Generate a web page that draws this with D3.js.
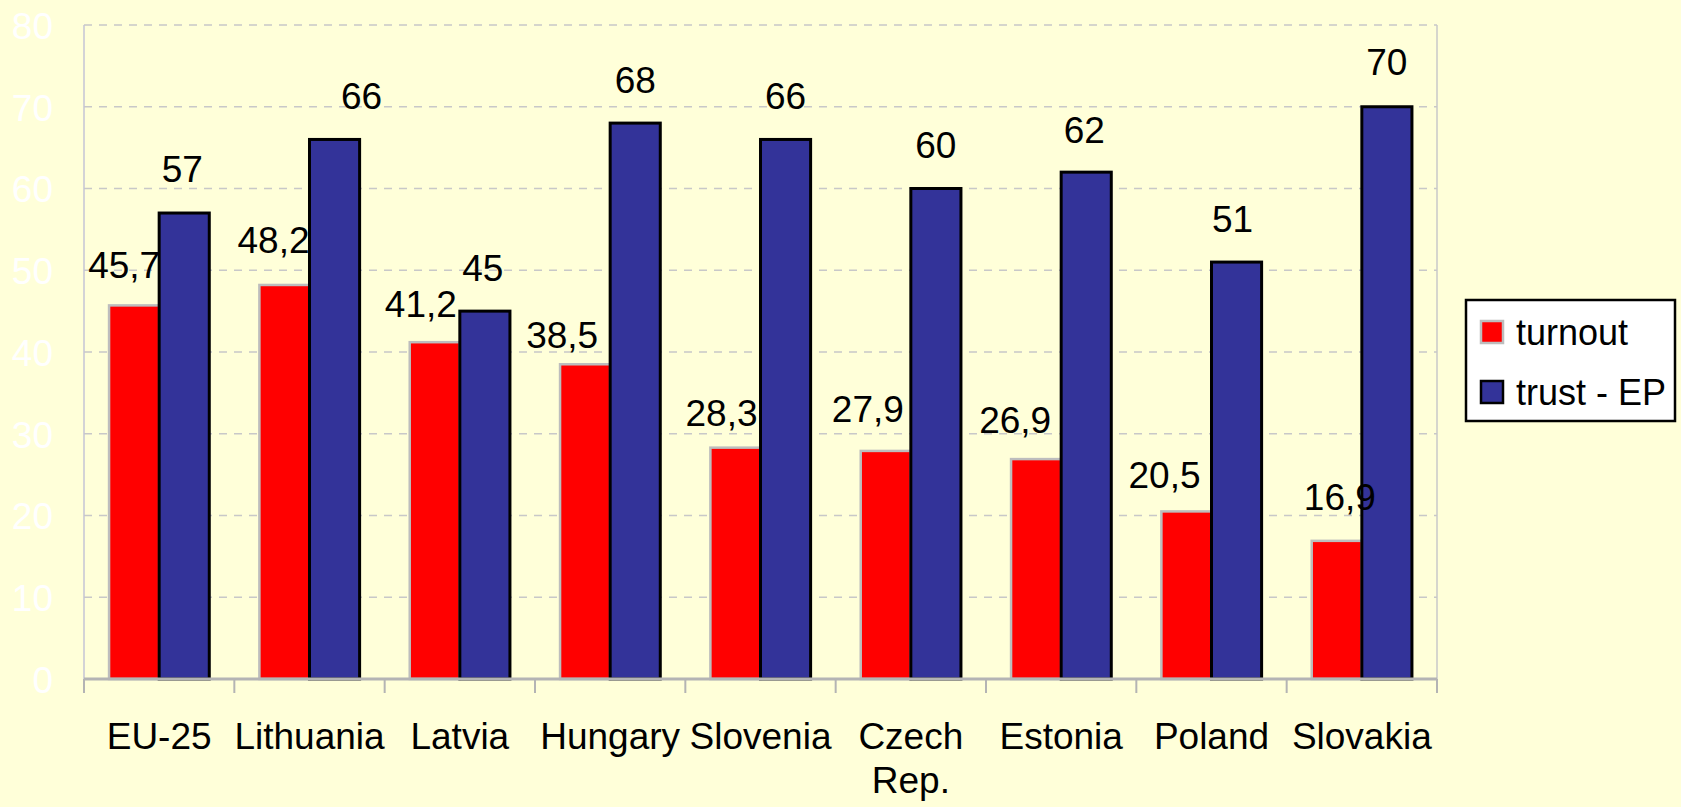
<!DOCTYPE html>
<html>
<head>
<meta charset="utf-8">
<script src="https://cdn.jsdelivr.net/npm/d3@7/dist/d3.min.js"></script>
<style>
  html, body { margin: 0; padding: 0; background: #FFFFD9; }
  svg { display: block; }
  text { font-family: "Liberation Sans", Arial, sans-serif; }
</style>
</head>
<body>
<svg id="chart" width="1681" height="807"></svg>
<script>
// ---- data ----
const categories = ["EU-25", "Lithuania", "Latvia", "Hungary", "Slovenia", "Czech Rep.", "Estonia", "Poland", "Slovakia"];
const turnout = [45.7, 48.2, 41.2, 38.5, 28.3, 27.9, 26.9, 20.5, 16.9];
const trustEP = [57, 66, 45, 68, 66, 60, 62, 51, 70];
const seriesNames = ["turnout", "trust - EP"];
const yTicks = [0, 10, 20, 30, 40, 50, 60, 70, 80];

// label nudges (manual placement in the original), kept apart from data
const turnoutLabelDx = [1, 0, -3, -12, -3, -7, -10, -11, 14];
const turnoutLabelGap = [27, 32, 25, 16, 22, 29, 26, 23, 31];
const trustLabelDx = [-2, 27, -2, 0, 0, 0, -2, -4, 0];
const trustLabelGap = [31, 30, 30, 30, 30, 31, 29, 30, 32];

const colors = { "turnout": "#FF0000", "trust - EP": "#333399" };
const strokes = { "turnout": "#BDBDBD", "trust - EP": "#000000" };

const svg = d3.select("#chart");
const mLeft = 84, mRight = 1437, mTop = 25, mBottom = 679;

svg.append("rect").attr("width", 1681).attr("height", 807).attr("fill", "#FFFFD9");

const x0 = d3.scaleBand().domain(categories).range([mLeft, mRight]).padding(0);
const x1 = d3.scaleBand().domain(seriesNames).range([0, x0.bandwidth()]).paddingInner(0).paddingOuter(0.5);
const y = d3.scaleLinear().domain([0, 80]).range([mBottom, mTop]);

// gridlines
svg.append("g").selectAll("line").data(yTicks.filter(d => d > 0)).join("line")
  .attr("x1", mLeft).attr("x2", mRight)
  .attr("y1", d => y(d)).attr("y2", d => y(d))
  .attr("stroke", "#C8C8C8").attr("stroke-width", 1.5).attr("stroke-dasharray", "8,7");

// plot borders (left / right)
svg.append("line").attr("x1", mLeft).attr("x2", mLeft).attr("y1", mTop).attr("y2", mBottom)
  .attr("stroke", "#C4C4D4").attr("stroke-width", 1.5);
svg.append("line").attr("x1", mRight).attr("x2", mRight).attr("y1", mTop).attr("y2", mBottom)
  .attr("stroke", "#C8C8C8").attr("stroke-width", 1.5);

// y-axis labels
const yAxis = d3.axisLeft(y).tickValues(yTicks).tickSize(0).tickPadding(0);
const gy = svg.append("g").attr("transform", `translate(${mLeft - 31},0)`).call(yAxis);
gy.select(".domain").remove();
gy.selectAll("text").attr("fill", "#FFFFFF").attr("font-size", 37)
  .attr("font-family", '"Liberation Sans", Arial, sans-serif').attr("dy", "0.36em");

// bars
const rows = categories.map((c, i) => ({ c, i, vals: [turnout[i], trustEP[i]] }));
const groups = svg.append("g").selectAll("g").data(rows).join("g")
  .attr("transform", d => `translate(${x0(d.c)},0)`);

groups.selectAll("rect").data(d => seriesNames.map((s, k) => ({ s, v: d.vals[k] }))).join("rect")
  .attr("x", d => x1(d.s))
  .attr("width", x1.bandwidth())
  .attr("y", d => y(d.v))
  .attr("height", d => y(0) - y(d.v))
  .attr("fill", d => colors[d.s])
  .attr("stroke", d => strokes[d.s])
  .attr("stroke-width", d => d.s === "turnout" ? 2.5 : 3);

// x axis
const xAxis = d3.axisBottom(x0).tickSize(0).tickFormat("");
const gx = svg.append("g").attr("transform", `translate(0,${mBottom})`).call(xAxis);
gx.select(".domain").attr("stroke", "#B4B4B4").attr("stroke-width", 3).attr("d", `M${mLeft},0H${mRight}`);
// tick marks at category boundaries
const bounds = categories.map(c => x0(c)).concat([mRight]);
svg.append("g").selectAll("line").data(bounds).join("line")
  .attr("x1", d => d).attr("x2", d => d).attr("y1", mBottom).attr("y2", mBottom + 14)
  .attr("stroke", "#B4B4B4").attr("stroke-width", 2);

// category labels
svg.append("g").selectAll("text").data(categories).join("text")
  .attr("x", d => x0(d) + x0.bandwidth() / 2)
  .attr("y", 749)
  .attr("text-anchor", "middle")
  .attr("font-size", 37)
  .attr("fill", "#000")
  .each(function (d) {
    const parts = d === "Czech Rep." ? ["Czech", "Rep."] : [d];
    const t = d3.select(this);
    parts.forEach((p, k) => {
      t.append("tspan").attr("x", x0(d) + x0.bandwidth() / 2).attr("dy", k === 0 ? 0 : 44).text(p);
    });
  });

// value labels
const fmt = v => String(v).replace(".", ",");
svg.append("g").selectAll("text").data(rows).join("text")
  .attr("x", d => x0(d.c) + x1("turnout") + x1.bandwidth() + turnoutLabelDx[d.i])
  .attr("y", d => y(turnout[d.i]) - turnoutLabelGap[d.i])
  .attr("text-anchor", "end")
  .attr("font-size", 37)
  .attr("fill", "#000")
  .text(d => fmt(turnout[d.i]));

svg.append("g").selectAll("text").data(rows).join("text")
  .attr("x", d => x0(d.c) + x1("trust - EP") + x1.bandwidth() / 2 + trustLabelDx[d.i])
  .attr("y", d => y(trustEP[d.i]) - trustLabelGap[d.i])
  .attr("text-anchor", "middle")
  .attr("font-size", 37)
  .attr("fill", "#000")
  .text(d => fmt(trustEP[d.i]));

// legend
const lg = svg.append("g");
lg.append("rect").attr("x", 1466).attr("y", 300).attr("width", 209).attr("height", 121)
  .attr("fill", "#FFFFFF").attr("stroke", "#000").attr("stroke-width", 2.5);
seriesNames.forEach((s, k) => {
  const yy = 321 + k * 60;
  lg.append("rect").attr("x", 1481).attr("y", yy).attr("width", 22).attr("height", 22)
    .attr("fill", colors[s]).attr("stroke", strokes[s]).attr("stroke-width", 2.5);
  lg.append("text").attr("x", 1516).attr("y", yy + 24).attr("font-size", 36).attr("fill", "#000").text(s);
});
</script>
</body>
</html>
